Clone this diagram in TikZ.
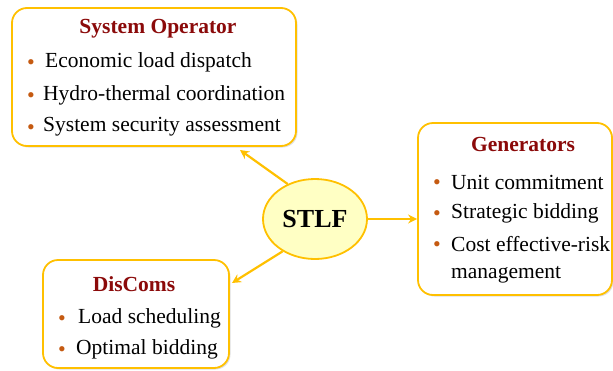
\documentclass[tikz,border=0pt]{standalone}
\usepackage{fontspec}
\setmainfont{Liberation Serif}
\usetikzlibrary{arrows.meta,shadows,shapes.geometric}
\definecolor{gold}{HTML}{FFC000}
\definecolor{titlered}{HTML}{8B0A0A}
\definecolor{bulletc}{HTML}{C55A11}
\definecolor{ellfill}{HTML}{FFFFC4}
\tikzset{
  infobox/.style={draw=gold, line width=1.8pt, rounded corners=15pt, fill=white,
    drop shadow={opacity=0.25, shadow xshift=1.5pt, shadow yshift=-1.5pt}, inner sep=0pt},
  ttl/.style={font=\rmfamily\fontsize{21.5}{24}\selectfont\bfseries, text=titlered, inner sep=0pt},
  itm/.style={font=\rmfamily\fontsize{21.5}{24}\selectfont, anchor=west, inner sep=0pt},
  bul/.style={font=\rmfamily\fontsize{22}{24}\selectfont, text=bulletc, inner sep=0pt},
  arr/.style={draw=gold, line width=2.2pt, -{Stealth[length=9pt,width=9pt]}},
}
\begin{document}
\begin{tikzpicture}[x=1pt,y=-1pt]
\useasboundingbox (0,0) rectangle (613,370);
% boxes
\node[infobox, minimum width=284pt, minimum height=138pt] (so) at (154,77) {};
\node[infobox, minimum width=194pt, minimum height=172pt] (gen) at (515,209) {};
\node[infobox, minimum width=186pt, minimum height=108pt] (dis) at (136,314) {};
% STLF
\node[ellipse, draw=gold, line width=1.8pt, fill=ellfill, minimum width=104pt, minimum height=80pt,
  font=\rmfamily\fontsize{26}{30}\selectfont\bfseries, inner sep=0pt] (stlf) at (315,219) {STLF};
% System Operator
\node[ttl] (soT) at (158,29) {System Operator};
\node[bul] (sob1) at (31,65) {•};
\node[itm] (soi1) at (45,62) {Economic load dispatch};
\node[bul] (sob2) at (31,98) {•};
\node[itm] (soi2) at (43,95) {Hydro-thermal coordination};
\node[bul] (sob3) at (31,130) {•};
\node[itm] (soi3) at (43,127) {System security assessment};
% Generators
\node[ttl] (genT) at (523,144) {Generators};
\node[bul] (genb1) at (437,185) {•};
\node[itm] (geni1) at (451,182) {Unit commitment};
\node[bul] (genb2) at (437,216) {•};
\node[itm] (geni2) at (451,213) {Strategic bidding};
\node[bul] (genb3) at (437,247) {•};
\node[itm] (geni3) at (451,244) {Cost effective-risk};
\node[itm] (geni4) at (451,275) {management};
% DisComs
\node[ttl] (disT) at (134,284) {DisComs};
\node[bul] (disb1) at (62,321) {•};
\node[itm] (disi1) at (78,318) {Load scheduling};
\node[bul] (disb2) at (62,352) {•};
\node[itm] (disi2) at (76,349) {Optimal bidding};
% arrows
\coordinate (soEnd) at (240,150);
\coordinate (disEnd) at (232,283);
\draw[arr] (stlf.128) -- (soEnd);
\draw[arr] (stlf.east) -- (gen.west |- stlf.east);
\draw[arr] (stlf.225) -- (disEnd);
\end{tikzpicture}
\end{document}
